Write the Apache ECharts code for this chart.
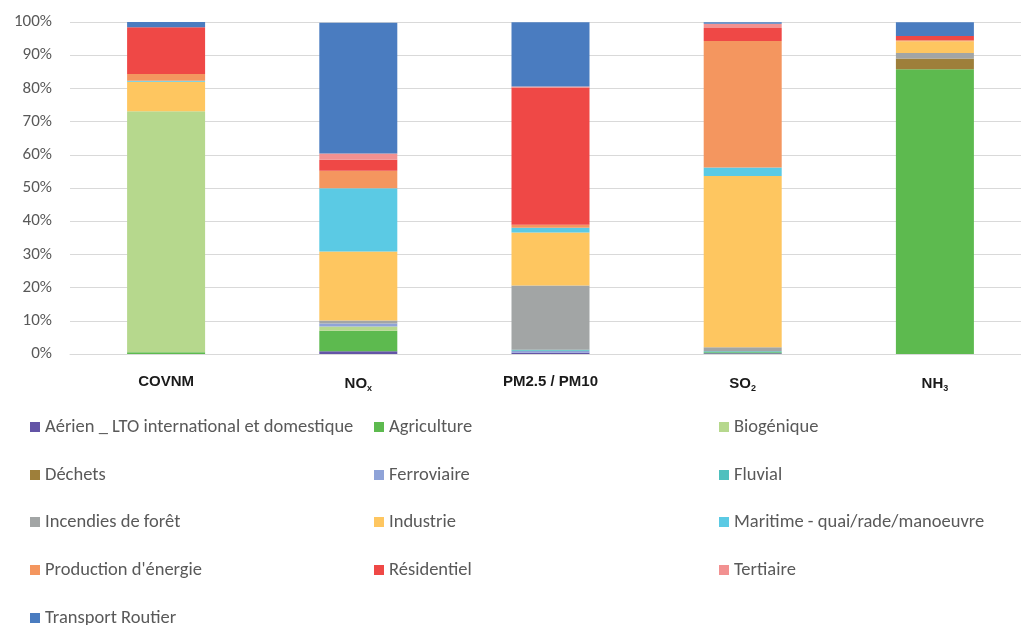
<!DOCTYPE html>
<html>
<head>
<meta charset="utf-8">
<script src="https://cdn.jsdelivr.net/npm/echarts@6/dist/echarts.min.js"></script>
<style>
html,body{margin:0;padding:0;background:#fff;overflow:hidden;}
#chart{width:1031px;height:625px;}
</style>
</head>
<body>
<div id="chart"></div>
<script>
// Categories (pollutants)
var categories = ['COVNM', 'NOx', 'PM2.5 / PM10', 'SO2', 'NH3'];
var yTicks = [0, 10, 20, 30, 40, 50, 60, 70, 80, 90, 100];

// Share of emissions by sector (%), bottom to top of stack
var aerien      = [0,    0.8,  0.4,  0.2,  0];
var agriculture = [0.5,  6.2,  0,    0.3,  85.8];
var biogenique  = [72.6, 1.3,  0,    0,    0];
var dechets     = [0,    0,    0,    0,    3.2];
var ferroviaire = [0,    0.9,  0.6,  0,    0];
var fluvial     = [0,    0,    0.3,  0.3,  0];
var incendies   = [0,    0.9,  19.3, 1.2,  1.7];
var industrie   = [8.9,  20.8, 16.0, 51.6, 3.5];
var maritime    = [0.3,  19.0, 1.4,  2.6,  0];
var production  = [2.0,  5.3,  0.9,  38.1, 0.3];
var residentiel = [14.1, 3.3,  41.4, 3.9,  1.3];
var tertiaire   = [0,    1.9,  0.3,  1.3,  0];
var transport   = [1.6,  39.4, 19.3, 0.4,  4.1];

var seriesNames = [
  'Aérien _ LTO international et domestique', 'Agriculture', 'Biogénique',
  'Déchets', 'Ferroviaire', 'Fluvial', 'Incendies de forêt', 'Industrie',
  'Maritime - quai/rade/manoeuvre', "Production d'énergie", 'Résidentiel',
  'Tertiaire', 'Transport Routier'
];
var seriesData = [aerien, agriculture, biogenique, dechets, ferroviaire, fluvial,
  incendies, industrie, maritime, production, residentiel, tertiaire, transport];
var colors = ['#6354A6', '#5DBA4F', '#B6D88D', '#9E7F3A', '#8FA3D8', '#4EC0BE',
  '#A2A5A5', '#FEC660', '#5BCAE4', '#F4965F', '#EF4846', '#F29191', '#4A7CC0'];

var series = seriesNames.map(function (n, i) {
  return {
    name: n, type: 'bar', stack: 'total', data: seriesData[i],
    barWidth: 78,
    itemStyle: { color: colors[i] },
    emphasis: { disabled: true }
  };
});

// legend laid out in 3 columns, one legend component per entry
var colX = [30, 374, 719];
var rowY = [427, 475, 522, 570, 618];
var legends = seriesNames.map(function (n, i) {
  return {
    orient: 'horizontal',
    left: colX[i % 3], top: rowY[Math.floor(i / 3)] - 10,
    itemWidth: 10, itemHeight: 10, icon: 'rect', padding: 0, itemGap: 0,
    selectedMode: false, data: [n],
    textStyle: { fontFamily: 'Carlito, Lato, sans-serif', fontSize: 18.5, color: '#595959', lineHeight: 20 }
  };
});

var chart = echarts.init(document.getElementById('chart'));
chart.setOption({
  animation: false,
  color: colors,
  grid: { left: 70, top: 22, right: 0, height: 332, containLabel: false },
  legend: legends,
  xAxis: {
    type: 'category', data: categories,
    axisLine: { lineStyle: { color: '#D9D9D9' } },
    axisTick: { show: false },
    axisLabel: {
      margin: 20,
      formatter: function (v) {
        if (v === 'NOx') return '{b|NO}{s|x}';
        if (v === 'SO2') return '{b|SO}{s|2}';
        if (v === 'NH3') return '{b|NH}{s|3}';
        return '{b|' + v + '}';
      },
      rich: {
        b: { fontFamily: '"Liberation Sans Narrow", "Arial Narrow", sans-serif', fontWeight: 'bold', fontSize: 15, color: '#1a1a1a' },
        s: { fontFamily: '"Liberation Sans Narrow", "Arial Narrow", sans-serif', fontWeight: 'bold', fontSize: 9, color: '#1a1a1a', padding: [10, 0, 0, 0] }
      }
    }
  },
  yAxis: {
    type: 'value', min: 0, max: 100, interval: 10,
    axisLine: { show: false }, axisTick: { show: false },
    splitLine: { lineStyle: { color: '#D9D9D9', width: 1 } },
    axisLabel: {
      margin: 18,
      fontFamily: 'Carlito, Lato, sans-serif', fontSize: 17, color: '#595959',
      formatter: function (v) { return yTicks.indexOf(v) >= 0 ? v + '%' : ''; }
    }
  },
  series: series
});
</script>
</body>
</html>
